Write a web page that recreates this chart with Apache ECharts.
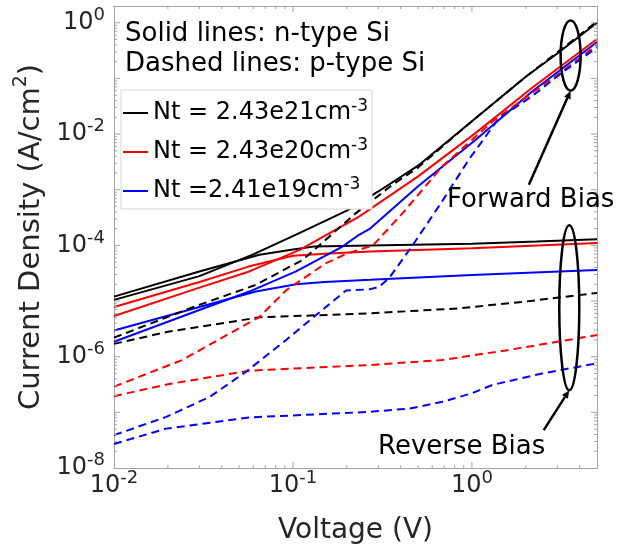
<!DOCTYPE html>
<html>
<head>
<meta charset="utf-8">
<script src="https://cdn.jsdelivr.net/npm/echarts@6/dist/echarts.min.js"></script>
<style>
  html, body { margin: 0; padding: 0; background: #ffffff; }
  #chart { width: 632px; height: 549px; }
</style>
</head>
<body>
<div id="chart"></div>
<script>
// Current density vs. voltage on log–log axes.
// Each series: [voltage (V), current density (A/cm^2)].
// n-type Si (solid lines)
const nFwd21 = [[0.01,1.05e-5],[0.03,2.8e-5],[0.06,6.9e-5],[0.11,1.7e-4],[0.2,4.2e-4],[0.3,9.3e-4],[0.5,2.7e-3],[1,1.7e-2],[2,0.107],[3,0.28],[5,1.0]];
const nRev21 = [[0.01,1.2e-5],[0.03,3.4e-5],[0.065,6.8e-5],[0.1,8.4e-5],[0.13,9.5e-5],[0.27,9.9e-5],[1,1.07e-4],[2.3,1.17e-4],[5,1.29e-4]];
const nFwd20 = [[0.01,5.4e-6],[0.03,1.74e-5],[0.057,3.4e-5],[0.109,8.3e-5],[0.234,3.3e-4],[0.267,4.4e-4],[0.5,1.74e-3],[1.05,1.05e-2],[2.17,6.8e-2],[5,0.51]];
const nRev20 = [[0.01,7.8e-6],[0.03,2.2e-5],[0.057,4.2e-5],[0.1,6.5e-5],[0.15,7.1e-5],[0.27,7.8e-5],[1,8.9e-5],[5,1.1e-4]];
const nFwd19 = [[0.01,1.86e-6],[0.03,6.9e-6],[0.057,1.48e-5],[0.104,3.4e-5],[0.189,9.5e-5],[0.234,1.55e-4],[0.27,2.0e-4],[0.5,1.15e-3],[1.05,7.9e-3],[2.17,5.8e-2],[5,0.45]];
const nRev19 = [[0.01,2.95e-6],[0.03,7.8e-6],[0.062,1.48e-5],[0.104,2.0e-5],[0.15,2.2e-5],[0.27,2.4e-5],[1,2.95e-5],[5,3.6e-5]];
// p-type Si (dashed lines)
const pFwd21 = [[0.01,2.2e-6],[0.028,7.9e-6],[0.062,1.95e-5],[0.1135,5.5e-5],[0.225,3.8e-4],[0.36,1.23e-3],[0.5,2.5e-3],[1,1.7e-2],[2,0.107],[3,0.295],[5,1.05]];
const pRev21 = [[0.01,1.7e-6],[0.02,2.8e-6],[0.065,5.1e-6],[0.27,6.0e-6],[0.85,7.4e-6],[2,9.8e-6],[5,1.4e-5]];
const pFwd20 = [[0.01,2.9e-7],[0.024,8.7e-7],[0.065,5.2e-6],[0.092,1.58e-5],[0.153,4.8e-5],[0.2,7.1e-5],[0.28,1.0e-4],[0.41,3.8e-4],[0.68,2.6e-3],[1.3,1.66e-2],[2.17,5.5e-2],[3.18,0.132],[5,0.40]];
const pRev20 = [[0.01,1.95e-7],[0.02,3.2e-7],[0.057,5.6e-7],[0.27,7.1e-7],[0.68,8.7e-7],[1.6,1.32e-6],[5,2.45e-6]];
const pFwd19 = [[0.01,3.9e-8],[0.0196,8.3e-8],[0.0343,1.9e-7],[0.0548,5.4e-7],[0.0916,2.0e-6],[0.1346,5.6e-6],[0.198,1.55e-5],[0.267,1.62e-5],[0.303,1.8e-5],[0.345,2.6e-5],[0.466,1.0e-4],[0.684,6.3e-4],[0.962,3.5e-3],[1.41,1.9e-2],[2.17,4.8e-2],[3.18,0.126],[5,0.36]];
const pRev19 = [[0.01,2.7e-8],[0.0196,5.1e-8],[0.057,8.1e-8],[0.267,1.02e-7],[0.45,1.17e-7],[0.684,1.55e-7],[1,2.2e-7],[1.3,3.1e-7],[2.47,5.0e-7],[5,7.6e-7]];

// Legend entries (trap densities) and tick labels
const legendNames = ['Nt = 2.43e21cm', 'Nt = 2.43e20cm', 'Nt =2.41e19cm'];
const legendSup = '-3';
const xTickLabels = [0.01, 0.1, 1];
const yTickLabels = [1e-8, 1e-6, 1e-4, 1e-2, 1];
const xRange = [0.01, 5];
const yRange = [1e-8, 2];

const FONT = 'DejaVu Sans';
const AXIS_GRAY = '#a3a3a3';
const TXT = '#262626';
const BLACK = '#000000', RED = '#ff0000', BLUE = '#0000ff';
const DASH = [8, 5];

function expOf(v) { return Math.round(Math.log10(v)); }
function isLabelled(list, v) {
  return list.some(t => Math.abs(Math.log10(t) - Math.log10(v)) < 1e-6);
}

// tick positions of a log axis: 1..9 × each decade inside the range
function logTicks(lo, hi) {
  const out = [];
  for (let d = Math.floor(Math.log10(lo)); d <= Math.ceil(Math.log10(hi)); d++) {
    for (let k = 1; k <= 9; k++) {
      const v = k * Math.pow(10, d);
      if (v > lo * 1.0001 && v < hi * 0.9999) out.push([v, k === 1 ? 1 : 0]);
    }
  }
  return out;
}
const xTickData = logTicks(xRange[0], xRange[1]).map(t => [t[0], 1, t[1]]);
const yTickData = logTicks(yRange[0], yRange[1]).map(t => [1, t[0], t[1]]);

function lineSeries(name, data, color, dashed) {
  return {
    name, type: 'line', data, symbol: 'none', showSymbol: false,
    lineStyle: { color, width: 2, type: dashed ? DASH : 'solid' },
    itemStyle: { color },
    silent: true, animation: false, z: 3
  };
}

const chart = echarts.init(document.getElementById('chart'), null, { renderer: 'canvas' });

// "10" with a raised exponent
const tickRich = {
  b: { fontFamily: FONT, fontSize: 24, color: TXT, lineHeight: 24, verticalAlign: 'bottom' },
  s: { fontFamily: FONT, fontSize: 18, color: TXT, lineHeight: 18, verticalAlign: 'bottom', padding: [7, 0, 10.5, 0] }
};

chart.setOption({
  animation: false,
  backgroundColor: '#ffffff',
  textStyle: { fontFamily: FONT },
  grid: { left: 114, right: 35, top: 6, bottom: 81, containLabel: false, outerBoundsMode: 'none' },
  xAxis: [{
    type: 'log', min: xRange[0], max: xRange[1], logBase: 10,
    axisLine: { show: true, onZero: false, lineStyle: { color: AXIS_GRAY, width: 1 } },
    axisTick: { show: false }, splitLine: { show: false }, minorTick: { show: false },
    axisLabel: {
      margin: 6, showMaxLabel: false, showMinLabel: true,
      formatter: v => isLabelled(xTickLabels, v) ? '{b|10}{s|' + expOf(v) + '}' : '',
      rich: tickRich
    },
    name: 'Voltage (V)', nameLocation: 'middle', nameGap: 49,
    nameTextStyle: { fontFamily: FONT, fontSize: 28, color: TXT }
  }, {
    type: 'log', position: 'top', min: xRange[0], max: xRange[1],
    axisLine: { show: true, onZero: false, lineStyle: { color: AXIS_GRAY, width: 1 } },
    axisTick: { show: false }, axisLabel: { show: false }, splitLine: { show: false }
  }],
  yAxis: [{
    type: 'log', min: yRange[0], max: yRange[1], logBase: 10,
    axisLine: { show: true, onZero: false, lineStyle: { color: AXIS_GRAY, width: 1 } },
    axisTick: { show: false }, splitLine: { show: false }, minorTick: { show: false },
    axisLabel: {
      margin: 9, showMaxLabel: false,
      formatter: v => isLabelled(yTickLabels, v) ? '{b|10}{s|' + expOf(v) + '}' : '',
      rich: tickRich
    },
    name: '{t|Current Density (A/cm}{s|2}{t|)}', nameLocation: 'middle', nameGap: 61,
    nameTextStyle: {
      rich: {
        t: { fontFamily: FONT, fontSize: 29, color: TXT, lineHeight: 34, verticalAlign: 'bottom' },
        s: { fontFamily: FONT, fontSize: 19, color: TXT, lineHeight: 34, verticalAlign: 'top' }
      }
    }
  }, {
    type: 'log', position: 'right', min: yRange[0], max: yRange[1],
    axisLine: { show: true, onZero: false, lineStyle: { color: AXIS_GRAY, width: 1 } },
    axisTick: { show: false }, axisLabel: { show: false }, splitLine: { show: false }
  }],
  legend: {
    show: true, orient: 'vertical', left: 121, top: 90,
    data: legendNames.map(n => ({ name: n, icon: 'rect' })),
    itemWidth: 25, itemHeight: 2, itemGap: 12,
    padding: [8, 4, 6, 2],
    borderColor: '#d6d6d6', borderWidth: 1, backgroundColor: '#ffffff',
    selectedMode: false,
    formatter: name => '{n|' + name + '}{s|' + legendSup + '}',
    textStyle: {
      color: '#000000',
      rich: {
        n: { fontFamily: FONT, fontSize: 24, color: '#000', lineHeight: 24, verticalAlign: 'bottom' },
        s: { fontFamily: FONT, fontSize: 17, color: '#000', lineHeight: 17, verticalAlign: 'bottom', padding: [0, 0, 10, 0] }
      }
    }
  },
  series: [
    lineSeries(legendNames[0], nFwd21, BLACK, false),
    lineSeries('n 2.43e21 reverse', nRev21, BLACK, false),
    lineSeries(legendNames[1], nFwd20, RED, false),
    lineSeries('n 2.43e20 reverse', nRev20, RED, false),
    lineSeries(legendNames[2], nFwd19, BLUE, false),
    lineSeries('n 2.41e19 reverse', nRev19, BLUE, false),
    lineSeries('p 2.43e21 forward', pFwd21, BLACK, true),
    lineSeries('p 2.43e21 reverse', pRev21, BLACK, true),
    lineSeries('p 2.43e20 forward', pFwd20, RED, true),
    lineSeries('p 2.43e20 reverse', pRev20, RED, true),
    lineSeries('p 2.41e19 forward', pFwd19, BLUE, true),
    lineSeries('p 2.41e19 reverse', pRev19, BLUE, true),
    {
      // tick marks on bottom and top edges
      name: 'xticks', type: 'custom', data: xTickData, silent: true, clip: false, z: 5,
      renderItem: (params, api) => {
        const v = api.value(0), len = api.value(2) ? 6 : 3;
        const b = api.coord([v, yRange[0]]), t = api.coord([v, yRange[1]]);
        const st = { stroke: AXIS_GRAY, lineWidth: 1 };
        return { type: 'group', children: [
          { type: 'line', shape: { x1: b[0], y1: b[1], x2: b[0], y2: b[1] - len }, style: st },
          { type: 'line', shape: { x1: t[0], y1: t[1], x2: t[0], y2: t[1] + len }, style: st }
        ] };
      }
    },
    {
      // tick marks on left and right edges
      name: 'yticks', type: 'custom', data: yTickData, silent: true, clip: false, z: 5,
      renderItem: (params, api) => {
        const v = api.value(1), len = api.value(2) ? 6 : 3;
        const l = api.coord([xRange[0], v]), r = api.coord([xRange[1], v]);
        const st = { stroke: AXIS_GRAY, lineWidth: 1 };
        return { type: 'group', children: [
          { type: 'line', shape: { x1: l[0], y1: l[1], x2: l[0] + len, y2: l[1] }, style: st },
          { type: 'line', shape: { x1: r[0], y1: r[1], x2: r[0] - len, y2: r[1] }, style: st }
        ] };
      }
    }
  ]
});

// Annotations: bias-group ellipses with arrows, placed in data coordinates
const fwdGroup = { v: 3.56, jTop: 1.1, jBot: 0.06, rx: 10 };
const revGroup = { v: 3.5, jTop: 2.3e-4, jBot: 2.5e-7, rx: 10 };
const fwdArrowTail = [2.08, 1.23e-3];
const revArrowTail = [2.52, 4.8e-8];

function px(p) { return chart.convertToPixel({ gridIndex: 0 }, p); }

function ellipseEl(g) {
  const top = px([g.v, g.jTop]), bot = px([g.v, g.jBot]);
  return {
    type: 'ellipse', z: 10, silent: true,
    shape: { cx: top[0], cy: (top[1] + bot[1]) / 2, rx: g.rx, ry: (bot[1] - top[1]) / 2 },
    style: { fill: 'none', stroke: '#000', lineWidth: 2.5 }
  };
}
function arrowEls(tail, tip) {
  const a = px(tail), b = px(tip);
  const ang = Math.atan2(b[1] - a[1], b[0] - a[0]);
  const L = 8, W = 3.5;
  const bx = b[0] - L * Math.cos(ang), by = b[1] - L * Math.sin(ang);
  return [
    { type: 'line', z: 10, silent: true, shape: { x1: a[0], y1: a[1], x2: bx, y2: by }, style: { stroke: '#000', lineWidth: 2.5 } },
    { type: 'polygon', z: 10, silent: true,
      shape: { points: [[b[0], b[1]], [bx - W * Math.sin(ang), by + W * Math.cos(ang)], [bx + W * Math.sin(ang), by - W * Math.cos(ang)]] },
      style: { fill: '#000' } }
  ];
}
function label(text, x, y) {
  return { type: 'text', z: 10, silent: true, x, y,
    style: { text, fontFamily: FONT, fontSize: 26, fill: '#000', verticalAlign: 'middle' } };
}

chart.setOption({
  graphic: [
    label('Solid lines: n-type Si', 125, 34),
    label('Dashed lines: p-type Si', 125, 64),
    ellipseEl(fwdGroup),
    ellipseEl(revGroup),
    ...arrowEls(fwdArrowTail, [fwdGroup.v, fwdGroup.jBot]),
    ...arrowEls(revArrowTail, [revGroup.v, revGroup.jBot]),
    label('Forward Bias', 447, 200.5),
    label('Reverse Bias', 378, 447.5)
  ]
});
</script>
</body>
</html>
